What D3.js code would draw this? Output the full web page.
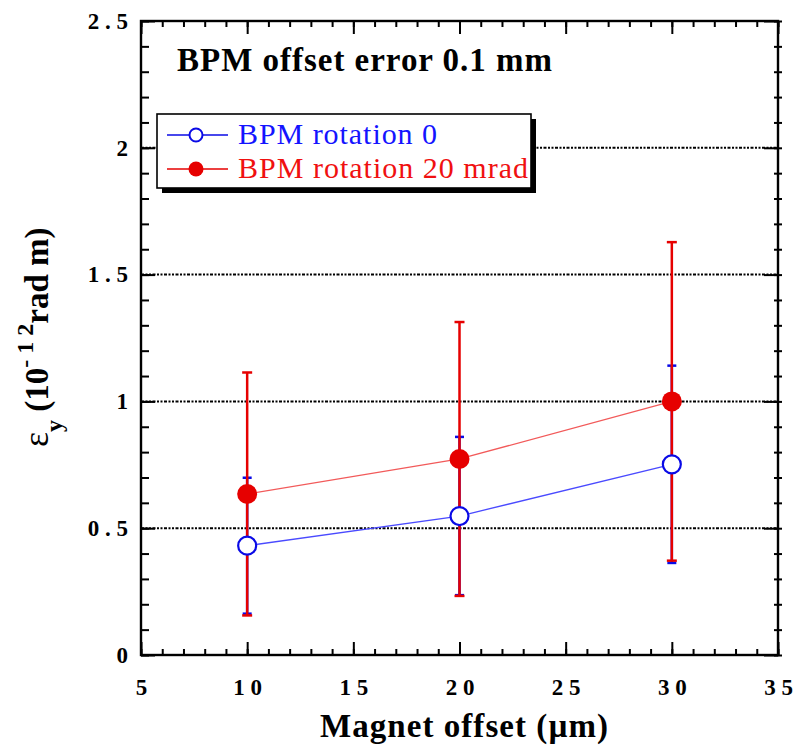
<!DOCTYPE html>
<html>
<head>
<meta charset="utf-8">
<script src="https://cdn.jsdelivr.net/npm/d3@7"></script>
<style>
  html, body { margin: 0; padding: 0; background: #fff; }
  svg { display: block; }
  text { white-space: pre; }
</style>
</head>
<body>
<svg id="chart" width="798" height="746"></svg>
<script>
// ---- data ----
const magnetOffset = [10, 20, 30];
const rot0Values   = [0.431, 0.548, 0.752];
const rot0Errors   = [0.268, 0.312, 0.389];
const rot20Values  = [0.635, 0.773, 1.0];
const rot20Errors  = [0.479, 0.540, 0.628];
const seriesNames  = ["BPM rotation 0", "BPM rotation 20 mrad"];
const xTicks       = [5, 10, 15, 20, 25, 30, 35];
const xTickLabels  = ["5", "1 0", "1 5", "2 0", "2 5", "3 0", "3 5"];
const yTicks       = [0, 0.5, 1, 1.5, 2, 2.5];
const yTickLabels  = ["0", "0 . 5", "1", "1 . 5", "2", "2 . 5"];
const yGrid        = [0.5, 1, 1.5, 2];
const titleText    = "BPM offset error 0.1 mm";
const xLabelText   = "Magnet offset (\u00b5m)";

// ---- layout ----
const FONT = "'Liberation Serif', 'Times New Roman', Times, serif";
const L = 141, R = 778, T = 21, B = 655;
const svg = d3.select("#chart");
const x = d3.scaleLinear().domain([5, 35]).range([L, R]);
const y = d3.scaleLinear().domain([0, 2.5]).range([B, T]);
const xMinor = d3.range(5, 35.001, 1);
const yMinor = d3.range(0, 2.5001, 0.1).map(v => +v.toFixed(2));

const BLUE = "#0a0ae6", RED = "#e60000";

// gridlines
svg.append("g").selectAll("line").data(yGrid).join("line")
  .attr("x1", L).attr("x2", R)
  .attr("y1", d => y(d)).attr("y2", d => y(d))
  .attr("stroke", "#000").attr("stroke-width", 2)
  .attr("stroke-dasharray", "3,1.5,2,1.5,2,1.5");

function tickAxis(gen, tf, vals, size) {
  const g = svg.append("g").attr("transform", tf)
    .call(gen.tickValues(vals).tickSize(size).tickFormat(""));
  g.select(".domain").remove();
  g.selectAll("line").attr("stroke", "#000").attr("stroke-width", 2);
  return g;
}
// left (inward)
tickAxis(d3.axisRight(y), `translate(${L},0)`, yMinor, 8);
tickAxis(d3.axisRight(y), `translate(${L},0)`, yTicks, 14);
// right (crossing)
tickAxis(d3.axisLeft(y), `translate(${R},0)`, yMinor, 4);
tickAxis(d3.axisRight(y), `translate(${R},0)`, yMinor, 4);
tickAxis(d3.axisLeft(y), `translate(${R},0)`, yTicks, 14);
// top (inward)
tickAxis(d3.axisBottom(x), `translate(0,${T})`, xMinor, 6);
tickAxis(d3.axisBottom(x), `translate(0,${T})`, xTicks, 13);
// bottom (inward)
tickAxis(d3.axisTop(x), `translate(0,${B})`, xMinor, 6);
tickAxis(d3.axisTop(x), `translate(0,${B})`, xTicks, 13);

// frame
svg.append("rect").attr("x", L).attr("y", T).attr("width", R - L).attr("height", B - T)
  .attr("fill", "none").attr("stroke", "#000").attr("stroke-width", 2.4);

// tick labels
const yl = svg.append("g").attr("transform", `translate(${L},0)`)
  .call(d3.axisLeft(y).tickValues(yTicks).tickSize(0).tickPadding(13)
    .tickFormat((d, i) => yTickLabels[i]));
yl.attr("font-family", FONT);
yl.select(".domain").remove();
yl.selectAll("text").attr("font-family", FONT)
  .attr("font-size", 23).attr("font-weight", "bold").attr("fill", "#000");

const xl = svg.append("g").attr("transform", `translate(0,${B})`)
  .call(d3.axisBottom(x).tickValues(xTicks).tickSize(0)
    .tickFormat((d, i) => xTickLabels[i]));
xl.attr("font-family", FONT);
xl.select(".domain").remove();
xl.selectAll("text").attr("font-family", FONT)
  .attr("font-size", 23).attr("font-weight", "bold").attr("fill", "#000")
  .attr("dy", 0).attr("y", 40);

// connecting lines
const line = (vals) => d3.line().x((d, i) => x(magnetOffset[i])).y(d => y(d))(vals);
svg.append("path").attr("d", line(rot0Values)).attr("fill", "none")
  .attr("stroke", "#4a4aff").attr("stroke-width", 1.3);
svg.append("path").attr("d", line(rot20Values)).attr("fill", "none")
  .attr("stroke", "#f25a5a").attr("stroke-width", 1.3);

// error bars
function errBars(vals, errs, color, capW, w) {
  const g = svg.append("g").attr("stroke", color).attr("stroke-width", w);
  vals.forEach((v, i) => {
    const cx = x(magnetOffset[i]);
    g.append("line").attr("x1", cx).attr("x2", cx)
      .attr("y1", y(v - errs[i])).attr("y2", y(v + errs[i]));
    [v - errs[i], v + errs[i]].forEach(e => {
      g.append("line").attr("x1", cx - capW / 2).attr("x2", cx + capW / 2)
        .attr("y1", y(e)).attr("y2", y(e));
    });
  });
}
errBars(rot0Values, rot0Errors, BLUE, 9, 2.5);
errBars(rot20Values, rot20Errors, RED, 10, 2.5);

// markers
svg.append("g").selectAll("circle").data(rot0Values).join("circle")
  .attr("cx", (d, i) => x(magnetOffset[i])).attr("cy", d => y(d)).attr("r", 9)
  .attr("fill", "#fff").attr("stroke", BLUE).attr("stroke-width", 2.2);
svg.append("g").selectAll("circle").data(rot20Values).join("circle")
  .attr("cx", (d, i) => x(magnetOffset[i])).attr("cy", d => y(d)).attr("r", 10)
  .attr("fill", RED);

// title
svg.append("text").attr("x", 177).attr("y", 71).attr("font-size", 33)
  .attr("font-family", FONT)
  .attr("font-weight", "bold").attr("fill", "#000")
  .attr("textLength", 375).attr("lengthAdjust", "spacing").text(titleText);

// legend
svg.append("rect").attr("x", 162).attr("y", 119).attr("width", 374).attr("height", 74).attr("fill", "#000");
svg.append("rect").attr("x", 157).attr("y", 114).attr("width", 374).attr("height", 74)
  .attr("fill", "#fff").attr("stroke", "#000").attr("stroke-width", 1.6);
const leg = [
  { y: 135, color: BLUE, txt: "#1414ff", len: 199, open: true },
  { y: 169, color: RED, txt: "#f01010", len: 290, open: false }
];
leg.forEach((e, i) => {
  svg.append("line").attr("x1", 167).attr("x2", 228).attr("y1", e.y).attr("y2", e.y)
    .attr("stroke", e.color).attr("stroke-width", 1.6);
  svg.append("circle").attr("cx", 196).attr("cy", e.y).attr("r", e.open ? 6.5 : 7.5)
    .attr("fill", e.open ? "#fff" : e.color).attr("stroke", e.open ? e.color : "none")
    .attr("stroke-width", 2);
  svg.append("text").attr("x", 238).attr("y", e.y + 9).attr("font-size", 30)
    .attr("font-family", FONT)
    .attr("fill", e.txt).attr("textLength", e.len).attr("lengthAdjust", "spacing")
    .text(seriesNames[i]);
});

// x label
svg.append("text").attr("x", 464).attr("y", 737).attr("text-anchor", "middle")
  .attr("font-family", FONT)
  .attr("font-size", 33).attr("font-weight", "bold").attr("fill", "#000")
  .attr("textLength", 288).attr("lengthAdjust", "spacing").text(xLabelText);

// y label
const yt = svg.append("text").attr("transform", "translate(48,447) rotate(-90)")
  .attr("font-family", FONT)
  .attr("font-weight", "bold").attr("fill", "#000").attr("font-size", 33);
yt.append("tspan").attr("font-size", 36).attr("font-weight", "normal").text("\u03b5");
yt.append("tspan").attr("font-size", 24).attr("dy", 14).text("y");
yt.append("tspan").attr("dy", -14).text(" (10");
yt.append("tspan").attr("font-size", 24).attr("dy", -15).text("- 1 2");
yt.append("tspan").attr("dy", 15).text("rad m)");
</script>
</body>
</html>
